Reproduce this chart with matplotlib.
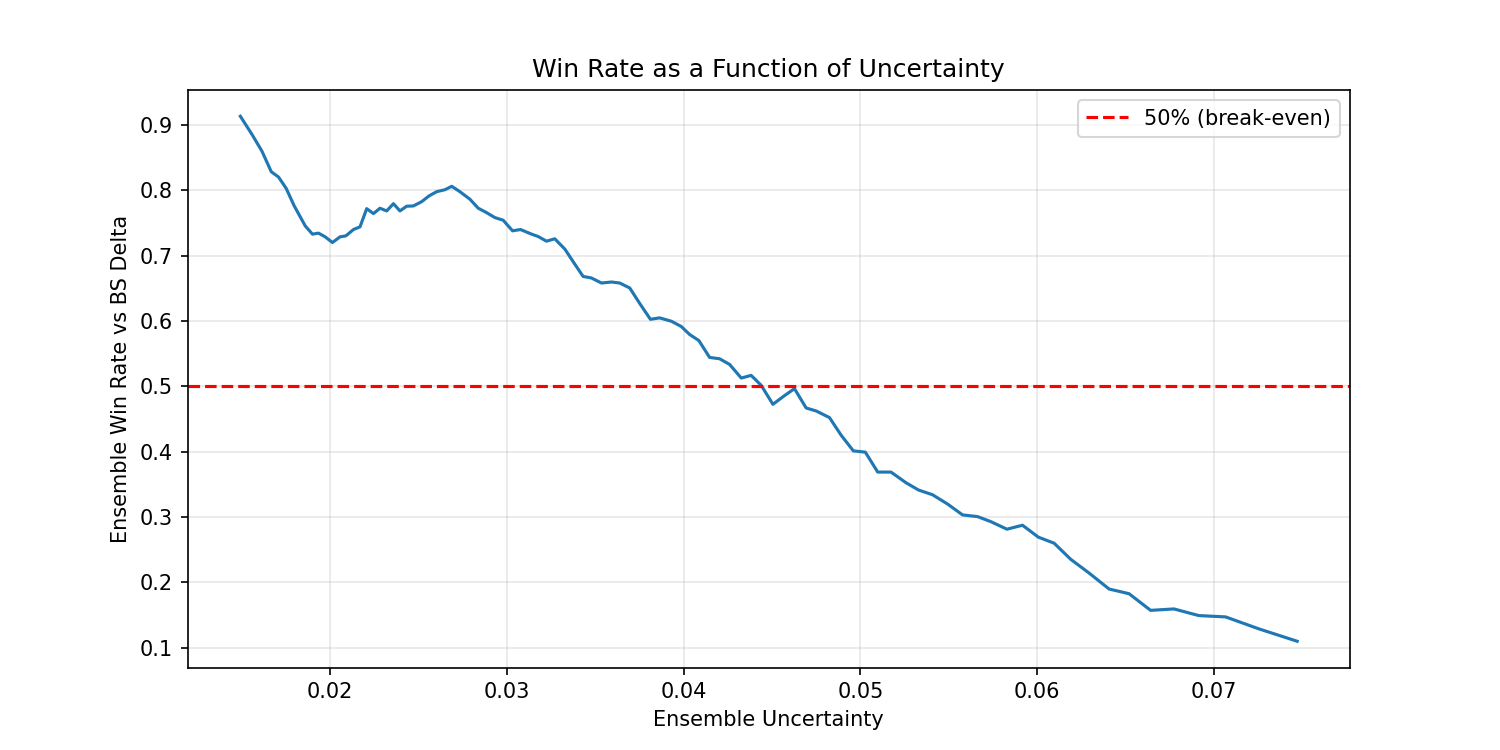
import matplotlib
matplotlib.use("Agg")
import matplotlib.pyplot as plt

uncertainty = [0.01492, 0.01558, 0.01614, 0.01667, 0.01708, 0.01751, 0.01797, 0.01859,
               0.01900, 0.01934, 0.01972, 0.02013, 0.02056, 0.02089, 0.02132, 0.02169,
               0.02207, 0.02245, 0.02282, 0.02320, 0.02358, 0.02395, 0.02433, 0.02471,
               0.02518, 0.02559, 0.02603, 0.02650, 0.02688, 0.02734, 0.02791, 0.02838,
               0.02885, 0.02932, 0.02979, 0.03032, 0.03077, 0.03140, 0.03177, 0.03224,
               0.03271, 0.03328, 0.03379, 0.03431, 0.03478, 0.03535, 0.03592, 0.03638,
               0.03695, 0.03751, 0.03812, 0.03864, 0.03931, 0.03987, 0.04034, 0.04086,
               0.04147, 0.04203, 0.04260, 0.04326, 0.04382, 0.04439, 0.04505, 0.04565,
               0.04627, 0.04693, 0.04750, 0.04825, 0.04891, 0.04960, 0.05028, 0.05098,
               0.05173, 0.05258, 0.05329, 0.05408, 0.05493, 0.05578, 0.05663, 0.05738,
               0.05829, 0.05917, 0.06007, 0.06096, 0.06190, 0.06294, 0.06407, 0.06520,
               0.06642, 0.06774, 0.06915, 0.07066, 0.07254, 0.07471]

win_rate = [0.9137, 0.8858, 0.8603, 0.8287, 0.8206, 0.8034, 0.7763, 0.7458,
            0.7331, 0.7347, 0.7290, 0.7203, 0.7290, 0.7305, 0.7402, 0.7443,
            0.7722, 0.7646, 0.7728, 0.7687, 0.7798, 0.7687, 0.7759, 0.7763,
            0.7829, 0.7916, 0.7982, 0.8012, 0.8064, 0.7982, 0.7866, 0.7728,
            0.7661, 0.7585, 0.7545, 0.7382, 0.7402, 0.7331, 0.7295, 0.7224,
            0.7260, 0.7102, 0.6893, 0.6684, 0.6660, 0.6583, 0.6598, 0.6583,
            0.6507, 0.6272, 0.6027, 0.6049, 0.5997, 0.5916, 0.5794, 0.5702,
            0.5443, 0.5423, 0.5336, 0.5127, 0.5168, 0.5015, 0.4725, 0.4847,
            0.4965, 0.4669, 0.4623, 0.4522, 0.4252, 0.4012, 0.3992, 0.3687,
            0.3687, 0.3524, 0.3412, 0.3340, 0.3198, 0.3031, 0.3005, 0.2928,
            0.2812, 0.2873, 0.2690, 0.2598, 0.2351, 0.2140, 0.1896, 0.1824,
            0.1569, 0.1591, 0.1489, 0.1469, 0.1286, 0.1096]

break_even = 0.5

fig, ax = plt.subplots(figsize=(10, 5), dpi=150)
ax.plot(uncertainty, win_rate, color="#1f77b4", linewidth=1.5)
ax.axhline(break_even, color="red", linestyle="--", linewidth=1.5, label="50% (break-even)")
ax.set_xlabel("Ensemble Uncertainty")
ax.set_ylabel("Ensemble Win Rate vs BS Delta")
ax.set_title("Win Rate as a Function of Uncertainty")
ax.legend(loc="upper right")
ax.grid(True, alpha=0.3)
fig.savefig("out.png", dpi=150)
